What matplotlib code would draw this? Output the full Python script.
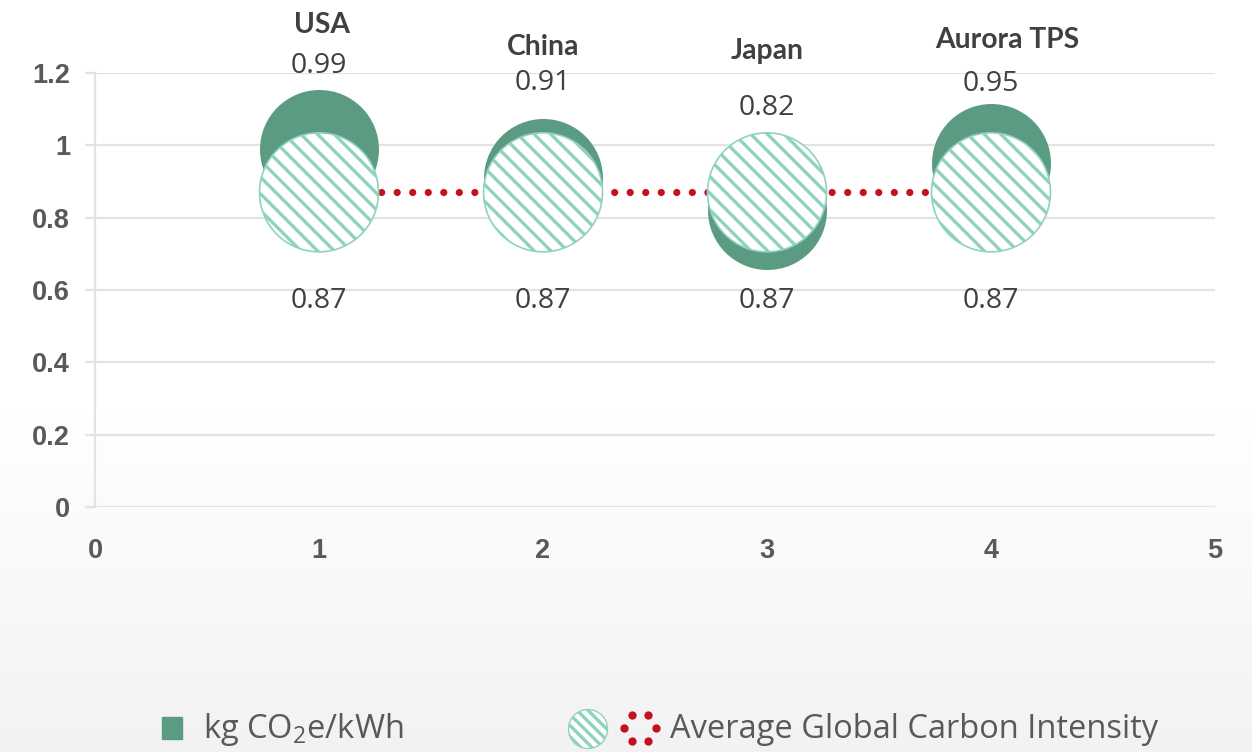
import numpy as np
import matplotlib
matplotlib.use("Agg")
from matplotlib import pyplot as plt
from matplotlib.patches import Circle, Rectangle
from matplotlib.ticker import FuncFormatter

plt.rcParams['hatch.linewidth'] = 2.4
plt.rcParams['mathtext.fontset'] = 'custom'
plt.rcParams['mathtext.rm'] = 'Open Sans'

# values
regions = ["USA", "China", "Japan", "Aurora TPS"]
positions = [1, 2, 3, 4]
intensity = [0.99, 0.91, 0.82, 0.95]
global_avg = [0.87, 0.87, 0.87, 0.87]

# label offsets from the bubble centre, in points
value_offsets = [60, 68, 74, 57]
name_offsets = [89, 94, 115, 89]
name_shift = [2, 0, 0, 12]
avg_label_offset = 78

DARK = "#5a9b82"
LIGHT = "#8fd3be"
RED = "#c0131f"
TXT = "#404040"
TICK = "#595959"

W, H = 1252, 752
fig = plt.figure(figsize=(W / 100, H / 100), dpi=100)

# soft grey wash towards the bottom of the slide
bg = fig.add_axes([0, 0, 1, 1], zorder=-10)
rows = np.linspace(1, 0, 400)
shade = np.where(rows > 0.45, 1.0, 1.0 - (0.45 - rows) / 0.45 * 0.05)
bg.imshow(np.repeat(shade[:, None, None], 3, axis=2), extent=[0, 1, 0, 1],
          aspect="auto", vmin=0, vmax=1)
bg.set_axis_off()

ax = fig.add_axes([95 / W, (H - 507) / H, 1120 / W, 434 / H])
ax.set_facecolor("none")
ax.set_xlim(0, 5)
ax.set_ylim(0, 1.2)
ax.set_yticks(np.arange(0, 1.21, 0.2))
ax.set_xticks(range(6))
ax.yaxis.set_major_formatter(FuncFormatter(lambda v, p: "%g" % round(v, 1)))
ax.grid(axis="y", color="#e3e3e3", linewidth=1.6)
ax.set_axisbelow(True)
for s in ["top", "right", "bottom"]:
    ax.spines[s].set_visible(False)
ax.spines["left"].set_color("#e3e3e3")
ax.spines["left"].set_linewidth(1.6)
ax.tick_params(axis="y", length=7, width=1.6, color="#e3e3e3", pad=11)
ax.tick_params(axis="x", length=0, pad=22)
for lab in ax.get_xticklabels() + ax.get_yticklabels():
    lab.set_fontfamily("Liberation Sans")
    lab.set_fontweight("bold")
    lab.set_fontsize(19.5)
    lab.set_color(TICK)

bubble = 7340
ax.scatter(positions, intensity, s=bubble, color=DARK, linewidths=0,
           zorder=3, clip_on=False)
ax.plot(positions, global_avg, color=RED, linewidth=5.2,
        linestyle=(0, (0.001, 2.15)), dash_capstyle="round", zorder=4)
ax.scatter(positions, global_avg, s=bubble, facecolor="white", edgecolor=LIGHT,
           linewidths=1.2, hatch="\\\\", zorder=5, clip_on=False)

for x, y, a, name, vo, no, ns in zip(positions, intensity, global_avg, regions,
                                      value_offsets, name_offsets, name_shift):
    ax.annotate("%.2f" % y, (x, y), xytext=(0, vo), textcoords="offset points",
                ha="center", va="center", fontsize=20.5, color=TXT,
                family="Open Sans", annotation_clip=False)
    ax.annotate(name, (x, y), xytext=(ns, no), textcoords="offset points",
                ha="center", va="center", fontsize=20.3, color=TXT,
                family="Lato", fontweight="bold", annotation_clip=False)
    ax.annotate("%.2f" % a, (x, a), xytext=(0, -avg_label_offset),
                textcoords="offset points", ha="center", va="center",
                fontsize=20.5, color=TXT, family="Open Sans",
                annotation_clip=False)

# legend, drawn by hand in pixel space
def px(x, y):
    return x / W, 1 - y / H

fig.add_artist(Rectangle(px(162, 739), 20 / W, 22 / H, color=DARK,
                         transform=fig.transFigure))
fig.text(*px(203, 730), r"kg CO$_\mathregular{2}$e/kWh", fontsize=23.5,
         color=TICK, family="Open Sans", va="center", ha="left")

leg_ax = fig.add_axes([568 / W, (H - 752) / H, 100 / W, 46 / H])
leg_ax.set_xlim(568, 668)
leg_ax.set_ylim(752, 706)
leg_ax.set_aspect("equal")
leg_ax.set_axis_off()
leg_ax.add_patch(Circle((588, 729), 19.5, facecolor="white", edgecolor=LIGHT,
                        linewidth=1.0, hatch="\\\\\\"))
ang = np.deg2rad(np.arange(0, 360, 60))
leg_ax.scatter(640 + 16 * np.cos(ang), 728 + 15 * np.sin(ang), s=36,
               color=RED, linewidths=0)
fig.text(*px(670, 730), "Average Global Carbon Intensity", fontsize=23.5,
         color=TICK, family="Open Sans", va="center", ha="left")

fig.savefig("out.png", dpi=100)
